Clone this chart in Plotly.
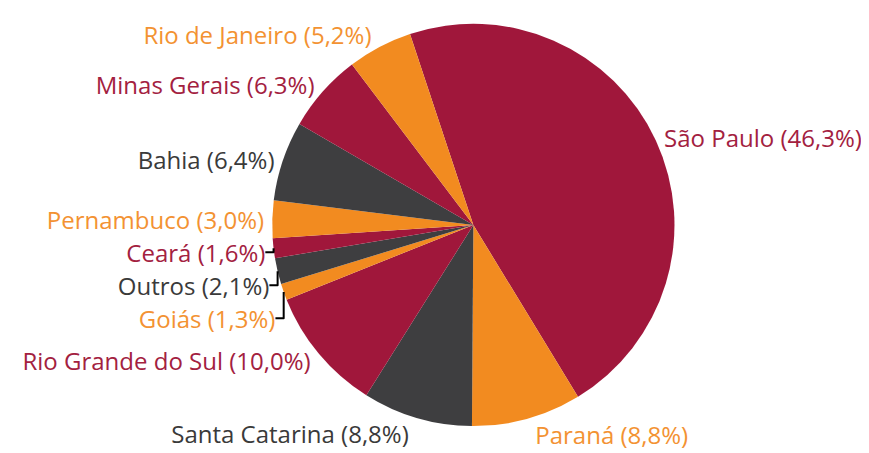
import plotly.graph_objects as go

labels = ["São Paulo", "Paraná", "Santa Catarina", "Rio Grande do Sul", "Goiás",
          "Outros", "Ceará", "Pernambuco", "Bahia", "Minas Gerais", "Rio de Janeiro"]
values = [46.3, 8.8, 8.8, 10.0, 1.3, 2.1, 1.6, 3.0, 6.4, 6.3, 5.2]

RED, ORANGE, GRAY = "#A0173B", "#F28B20", "#3E3E40"
slice_colors = [RED, ORANGE, GRAY, RED, ORANGE, GRAY, RED, ORANGE, GRAY, RED, ORANGE]
text_colors = {RED: "#A3213F", ORANGE: "#F39232", GRAY: "#3A3A3A"}

fig = go.Figure(go.Pie(
    labels=labels,
    values=values,
    sort=False,
    direction="clockwise",
    rotation=360 - (values[0] + values[1]) * 3.6 + 180,
    marker=dict(colors=slice_colors, line=dict(width=0)),
    textposition="outside",
    texttemplate="%{label} (%{value:.1f}%)",
    textfont=dict(family="Open Sans", size=24, color=[text_colors[c] for c in slice_colors]),
    hoverinfo="label+value",
    showlegend=False,
    domain=dict(x=[0.304, 0.767], y=[0.077, 0.965]),
    automargin=False,
))

fig.update_layout(
    width=869, height=453,
    margin=dict(l=0, r=0, t=0, b=0),
    paper_bgcolor="white",
    plot_bgcolor="white",
    separators=",.",
    showlegend=False,
)

fig.write_html("out.html")
